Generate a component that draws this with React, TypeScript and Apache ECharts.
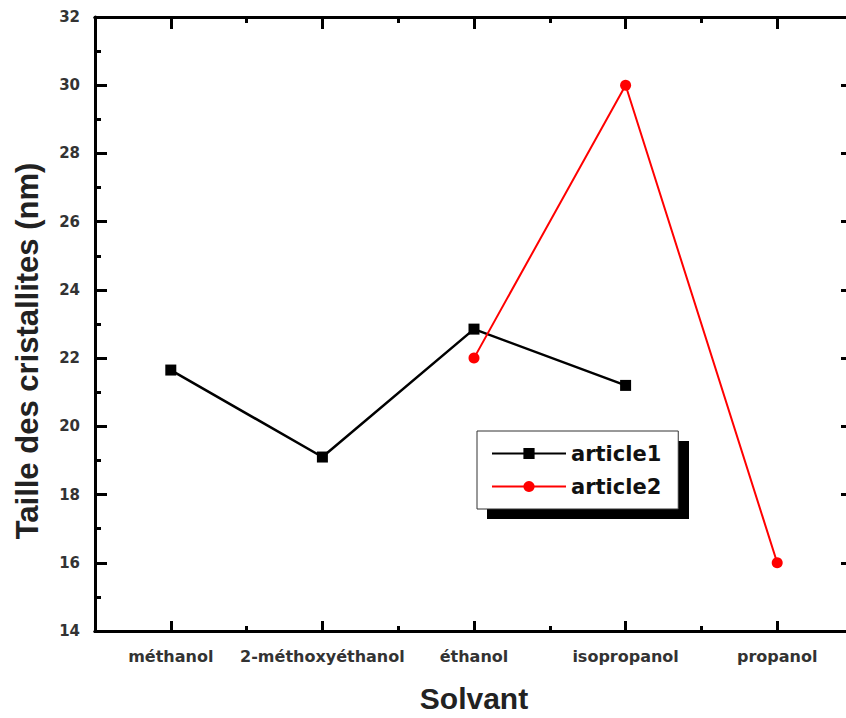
import React, { useEffect, useRef } from "react";
import * as echarts from "echarts";

const categories = ["méthanol", "2-méthoxyéthanol", "éthanol", "isopropanol", "propanol"];
const article1 = [21.65, 19.1, 22.85, 21.2, null];
const article2 = [null, null, 22.0, 30.0, 16.0];
const yMin = 14;
const yMax = 32;
const yInterval = 2;
const yTitle = "Taille des cristallites (nm)";
const xTitle = "Solvant";

const FONT = "'Liberation Sans', Arial, sans-serif";
const LABEL_FONT = "'DejaVu Sans', sans-serif";

export default function App() {
  const ref = useRef<HTMLDivElement>(null);
  useEffect(() => {
    if (!ref.current) return;
    const chart = echarts.init(ref.current, null, { renderer: "svg" });
    const grid = { left: 95, top: 17, right: 3, bottom: 84, containLabel: false };
    const baseCat = {
      type: "category" as const,
      data: categories,
      boundaryGap: true,
      axisLine: { show: true, lineStyle: { color: "#000", width: 3 } },
      splitLine: { show: false },
    };
    chart.setOption({
      animation: false,
      backgroundColor: "#fff",
      grid,
      xAxis: [
        {
          ...baseCat,
          position: "bottom",
          axisTick: { show: true, inside: true, alignWithLabel: true, length: 10, lineStyle: { color: "#000", width: 3 } },
          axisLabel: { show: true, interval: 0, margin: 17, color: "#333", fontFamily: LABEL_FONT, fontWeight: "bold", fontSize: 16 },
          name: xTitle,
          nameLocation: "middle",
          nameGap: 52,
          nameTextStyle: { fontFamily: FONT, fontWeight: "bold", fontSize: 30, color: "#222" },
        },
        {
          ...baseCat,
          position: "bottom",
          axisTick: { show: true, inside: true, length: 5, lineStyle: { color: "#000", width: 3 } },
          axisLabel: { show: false },
        },
        {
          ...baseCat,
          position: "top",
          axisTick: { show: true, inside: true, alignWithLabel: true, length: 12, lineStyle: { color: "#000", width: 3 } },
          axisLabel: { show: false },
        },
        {
          ...baseCat,
          position: "top",
          axisTick: { show: true, inside: true, length: 6, lineStyle: { color: "#000", width: 3 } },
          axisLabel: { show: false },
        },
      ],
      yAxis: [
        {
          type: "value",
          min: yMin,
          max: yMax,
          interval: yInterval,
          position: "left",
          axisLine: { show: true, lineStyle: { color: "#000", width: 3 } },
          axisTick: { show: true, inside: true, length: 12, lineStyle: { color: "#000", width: 3 } },
          minorTick: { show: true, splitNumber: 2, length: 6, lineStyle: { color: "#000", width: 3 } },
          splitLine: { show: false },
          axisLabel: { margin: 15, color: "#333", fontFamily: LABEL_FONT, fontWeight: "bold", fontSize: 15 },
        },
        {
          type: "value",
          min: yMin,
          max: yMax,
          interval: yInterval,
          position: "right",
          axisLine: { show: true, lineStyle: { color: "#000", width: 3 } },
          axisTick: { show: true, inside: true, length: 12, lineStyle: { color: "#000", width: 3 } },
          minorTick: { show: true, splitNumber: 2, length: 6, lineStyle: { color: "#000", width: 3 } },
          splitLine: { show: false },
          axisLabel: { show: false },
        },
      ],
      legend: {
        orient: "vertical",
        left: 477,
        top: 431,
        padding: [12, 17, 12, 14],
        itemWidth: 74,
        itemHeight: 14,
        itemGap: 12,
        backgroundColor: "#fff",
        borderColor: "#333",
        borderWidth: 1,
        borderRadius: 0,
        z: 5,
        textStyle: { fontFamily: LABEL_FONT, fontWeight: "bold", fontSize: 21, color: "#111", width: 93 },
        data: ["article1", "article2"],
      },
      graphic: [
        {
          type: "rect",
          z: 4,
          shape: { x: 487, y: 441, width: 202, height: 78 },
          style: { fill: "#000" },
        },
        {
          type: "text",
          x: 27,
          y: 351,
          rotation: Math.PI / 2,
          style: {
            text: yTitle,
            fontFamily: FONT,
            fontWeight: "bold",
            fontSize: 31,
            fill: "#222",
            align: "center",
            verticalAlign: "middle",
          },
        },
      ],
      series: [
        {
          name: "article1",
          type: "line",
          data: article1,
          connectNulls: false,
          symbol: "rect",
          symbolSize: 11,
          lineStyle: { color: "#000", width: 2.5 },
          itemStyle: { color: "#000" },
          z: 3,
        },
        {
          name: "article2",
          type: "line",
          data: article2,
          symbol: "circle",
          symbolSize: 11,
          lineStyle: { color: "#ff0000", width: 2 },
          itemStyle: { color: "#ff0000" },
          z: 3,
        },
      ],
    });
    return () => chart.dispose();
  }, []);
  return <div ref={ref} style={{ width: 856, height: 718, position: "fixed", left: 0, top: 0 }} />;
}
